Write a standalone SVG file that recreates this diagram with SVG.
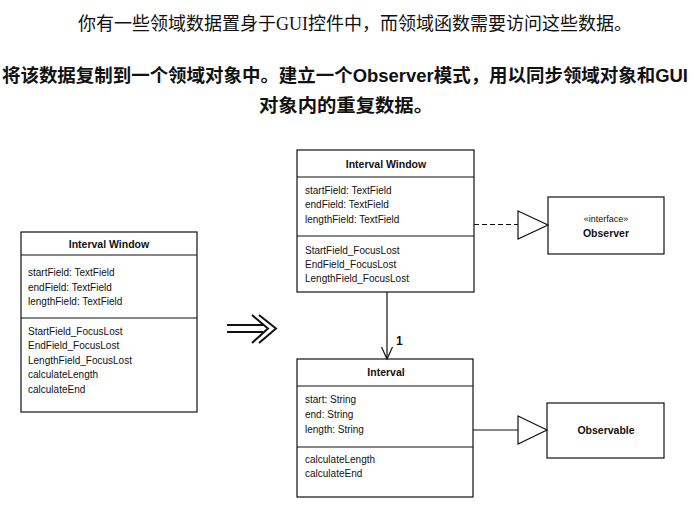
<svg xmlns="http://www.w3.org/2000/svg" width="694" height="518" viewBox="0 0 694 518">
<style>
.box{fill:#fff;stroke:#111;stroke-width:1.2}
.sep{stroke:#111;stroke-width:1.2}
.t{font-family:"Liberation Sans",Arial,sans-serif;font-size:10px;fill:#111}
.tb{font-family:"Liberation Sans",Arial,sans-serif;font-size:10.5px;font-weight:bold;fill:#111}
.h1{font-family:"Liberation Serif","Noto Sans CJK SC",serif;font-size:18px;fill:#111}
.h2{font-family:"Liberation Sans","Noto Sans CJK SC",sans-serif;font-size:18px;font-weight:bold;fill:#111}
.ln{stroke:#111;stroke-width:1.2;fill:none}
</style>
<rect width="694" height="518" fill="#fff"/>
<g id="header">
<text class="h1" x="78" y="30" textLength="554" lengthAdjust="spacingAndGlyphs">你有一些领域数据置身于GUI控件中，而领域函数需要访问这些数据。</text>
<text class="h2" x="2" y="82" textLength="686" lengthAdjust="spacingAndGlyphs">将该数据复制到一个领域对象中。建立一个Observer模式，用以同步领域对象和GUI</text>
<text class="h2" x="259" y="112" textLength="174" lengthAdjust="spacingAndGlyphs">对象内的重复数据。</text>
</g>
<g id="old-interval-window">
<rect class="box" x="21" y="232" width="176" height="180"/>
<line class="sep" x1="21" y1="255" x2="197" y2="255"/>
<line class="sep" x1="21" y1="318" x2="197" y2="318"/>
<text class="tb" x="109" y="248" text-anchor="middle">Interval Window</text>
<text class="t" x="28" y="276">startField: TextField</text>
<text class="t" x="28" y="291">endField: TextField</text>
<text class="t" x="28" y="305">lengthField: TextField</text>
<text class="t" x="28" y="335">StartField_FocusLost</text>
<text class="t" x="28" y="349">EndField_FocusLost</text>
<text class="t" x="28" y="364">LengthField_FocusLost</text>
<text class="t" x="28" y="378">calculateLength</text>
<text class="t" x="28" y="393">calculateEnd</text>
</g>
<g id="transform-arrow">
<line x1="227" y1="325" x2="263" y2="325" stroke="#111" stroke-width="2"/>
<line x1="227" y1="332" x2="263" y2="332" stroke="#111" stroke-width="2"/>
<polyline points="252,315 268,328.5 252,343" fill="none" stroke="#111" stroke-width="2"/>
<polyline points="259,315 276,328.5 259,343" fill="none" stroke="#111" stroke-width="2"/>
</g>
<g id="interval-window">
<rect class="box" x="297" y="150" width="177" height="142"/>
<line class="sep" x1="297" y1="177" x2="474" y2="177"/>
<line class="sep" x1="297" y1="236" x2="474" y2="236"/>
<text class="tb" x="386" y="168" text-anchor="middle">Interval Window</text>
<text class="t" x="305" y="194">startField: TextField</text>
<text class="t" x="305" y="208">endField: TextField</text>
<text class="t" x="305" y="223">lengthField: TextField</text>
<text class="t" x="305" y="254">StartField_FocusLost</text>
<text class="t" x="305" y="268">EndField_FocusLost</text>
<text class="t" x="305" y="282">LengthField_FocusLost</text>
</g>
<g id="interval">
<rect class="box" x="297" y="359" width="176" height="138"/>
<line class="sep" x1="297" y1="386" x2="473" y2="386"/>
<line class="sep" x1="297" y1="447" x2="473" y2="447"/>
<text class="tb" x="386" y="376" text-anchor="middle">Interval</text>
<text class="t" x="305" y="403">start: String</text>
<text class="t" x="305" y="418">end: String</text>
<text class="t" x="305" y="433">length: String</text>
<text class="t" x="305" y="463">calculateLength</text>
<text class="t" x="305" y="477">calculateEnd</text>
</g>
<g id="observer">
<rect class="box" x="548" y="197" width="116" height="57"/>
<text class="t" x="606" y="222" text-anchor="middle" style="font-size:9px">«interface»</text>
<text class="tb" x="606" y="237" text-anchor="middle">Observer</text>
</g>
<g id="observable">
<rect class="box" x="547" y="403" width="117" height="55"/>
<text class="tb" x="606" y="434" text-anchor="middle">Observable</text>
</g>
<g id="connectors">
<line class="ln" x1="387" y1="292" x2="387" y2="358"/>
<polyline class="ln" points="381.5,347 387,359 392.5,347"/>
<text x="396" y="345" style="font-family:'Liberation Sans',Arial,sans-serif;font-size:12px;font-weight:bold;fill:#111">1</text>
<line class="ln" x1="474" y1="224.5" x2="518" y2="224.5" stroke-dasharray="5,3"/>
<polygon class="ln" points="518,211 548,225 518,239" style="fill:#fff"/>
<line class="ln" x1="473" y1="430" x2="518" y2="430"/>
<polygon class="ln" points="518,416 547,430 518,444" style="fill:#fff"/>
</g>
</svg>
